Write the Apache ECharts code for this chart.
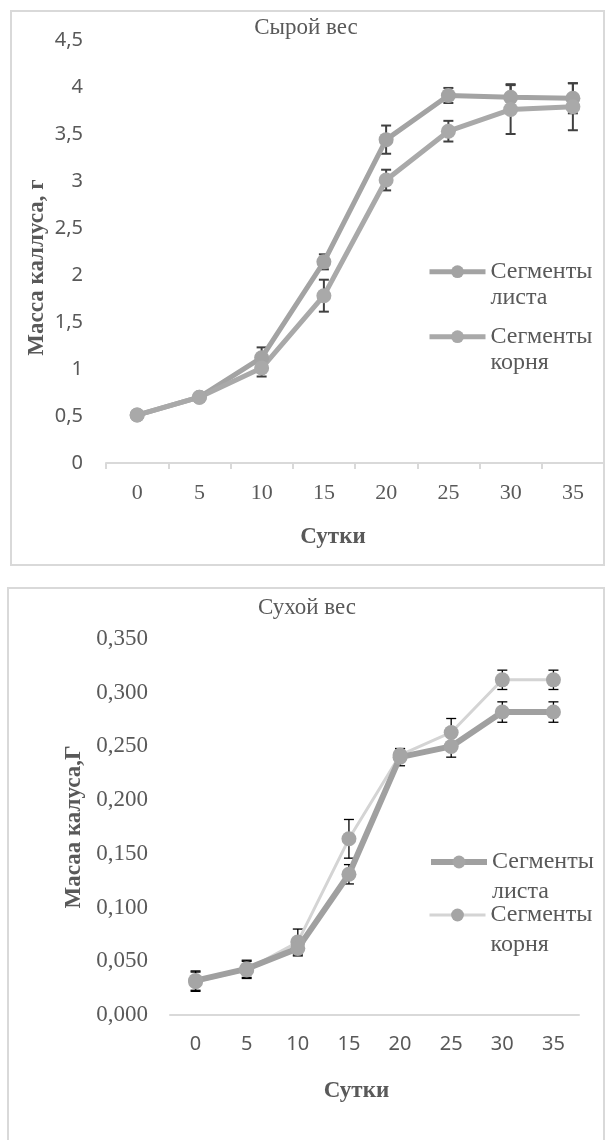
<!DOCTYPE html>
<html>
<head>
<meta charset="utf-8">
<script src="https://cdn.jsdelivr.net/npm/echarts@6/dist/echarts.min.js"></script>
<style>
html,body{margin:0;padding:0;background:#fff;}
#c1,#c2{width:606px;height:570px;}
</style>
</head>
<body>
<div id="c1"></div>
<div id="c2"></div>
<script>
// ---- data ----
const days = ['0', '5', '10', '15', '20', '25', '30', '35'];

const freshLeaf    = [0.51, 0.70, 1.12, 2.14, 3.44, 3.91, 3.89, 3.88];
const freshLeafErr = [0, 0, 0.11, 0.08, 0.15, 0.08, 0.14, 0.16];
const freshRoot    = [0.51, 0.70, 1.01, 1.78, 3.01, 3.53, 3.76, 3.79];
const freshRootErr = [0, 0, 0.09, 0.17, 0.11, 0.11, 0.26, 0.25];
const freshYTicks  = ['0', '0,5', '1', '1,5', '2', '2,5', '3', '3,5', '4', '4,5'];

const dryLeaf    = [0.032, 0.043, 0.062, 0.131, 0.240, 0.250, 0.282, 0.282];
const dryLeafErr = [0.009, 0.008, 0.007, 0.009, 0.008, 0.010, 0.0095, 0.0095];
const dryRoot    = [0.031, 0.042, 0.068, 0.164, 0.242, 0.263, 0.312, 0.312];
const dryRootErr = [0.009, 0.008, 0.012, 0.018, 0.006, 0.013, 0.009, 0.009];
const dryYTicks  = ['0,000', '0,050', '0,100', '0,150', '0,200', '0,250', '0,300', '0,350'];

const nameLeaf = 'Сегменты листа';
const nameRoot = 'Сегменты корня';

// ---- helpers ----
const SERIF = '"Liberation Serif", "Times New Roman", serif';
const SANS = '"Noto Sans", "Open Sans", sans-serif';
const TXT = '#595959';

function errData(vals, errs) {
  return vals.map((v, i) => [i, v, errs[i]]).filter(d => d[2] > 0);
}
function errSeries(vals, errs, color, width, cap) {
  return {
    type: 'custom',
    data: errData(vals, errs),
    z: 1,
    silent: true,
    renderItem: function (params, api) {
      const x = api.value(0), y = api.value(1), e = api.value(2);
      const hi = api.coord([x, y + e]);
      const lo = api.coord([x, y - e]);
      const st = { stroke: color, lineWidth: width };
      return {
        type: 'group',
        children: [
          { type: 'line', shape: { x1: hi[0], y1: hi[1], x2: lo[0], y2: lo[1] }, style: st },
          { type: 'line', shape: { x1: hi[0] - cap, y1: hi[1], x2: hi[0] + cap, y2: hi[1] }, style: st },
          { type: 'line', shape: { x1: lo[0] - cap, y1: lo[1], x2: lo[0] + cap, y2: lo[1] }, style: st }
        ]
      };
    }
  };
}
function lineSeries(name, vals, lineColor, lineWidth, markColor) {
  return {
    name: name,
    type: 'line',
    data: vals,
    z: 3,
    symbol: 'circle',
    symbolSize: 15,
    lineStyle: { color: lineColor, width: lineWidth },
    itemStyle: { color: markColor },
    emphasis: { disabled: true }
  };
}
function legendOne(name, left, top, L, lineColor, lineWidth, markColor) {
  return {
    data: [name],
    left: left,
    top: top,
    padding: 0,
    itemWidth: 56,
    itemHeight: 16,
    itemGap: 3,
    selectedMode: false,
    lineStyle: { color: lineColor, width: lineWidth },
    itemStyle: { color: markColor },
    formatter: n => '\n' + n.replace(' ', '\n'),
    textStyle: { fontFamily: SERIF, fontSize: 24, color: TXT, lineHeight: L }
  };
}

// ---- chart 1: fresh weight ----
const c1 = echarts.init(document.getElementById('c1'), null, { renderer: 'canvas' });
c1.setOption({
  animation: false,
  backgroundColor: '#fff',
  graphic: [{
    type: 'rect', shape: { x: 11, y: 11, width: 593, height: 554 },
    style: { fill: 'none', stroke: '#d9d9d9', lineWidth: 2 }, silent: true
  }],
  title: {
    text: 'Сырой вес', left: 306, top: 16, padding: 0, textAlign: 'center',
    textStyle: { fontFamily: SERIF, fontSize: 23, fontWeight: 'normal', color: TXT }
  },
  legend: [
    legendOne(nameLeaf, 427, 232.7, 26, '#a3a3a3', 5, '#a3a3a3'),
    legendOne(nameRoot, 427, 297.7, 26, '#a9a9a9', 5, '#a9a9a9')
  ],
  grid: { left: 106, top: 40, width: 498, height: 423 },
  xAxis: {
    type: 'category', data: days, boundaryGap: true,
    axisLine: { lineStyle: { color: '#d9d9d9', width: 2 } },
    axisTick: { show: true, length: 6, lineStyle: { color: '#d9d9d9', width: 2 } },
    axisLabel: { fontFamily: SERIF, fontSize: 22, color: TXT, margin: 19 },
    name: 'Сутки', nameLocation: 'middle', nameGap: 63,
    nameTextStyle: { fontFamily: SERIF, fontSize: 23, fontWeight: 'bold', color: TXT, padding: [0, 44, 0, 0] }
  },
  yAxis: {
    type: 'value', min: 0, max: 4.5, interval: 0.5,
    axisLine: { show: false }, axisTick: { show: false }, splitLine: { show: false },
    axisLabel: { fontFamily: SANS, fontSize: 20, color: TXT, margin: 23,
      formatter: v => freshYTicks[Math.round(v / 0.5)] },
    name: 'Масса каллуса, г', nameLocation: 'middle', nameGap: 57, nameRotate: 90,
    nameMoveOverlap: false,
    nameTextStyle: { fontFamily: SERIF, fontSize: 23, fontWeight: 'bold', color: TXT, padding: [0, 32, 0, 0] }
  },
  series: [
    errSeries(freshLeaf, freshLeafErr, '#404040', 2, 5),
    errSeries(freshRoot, freshRootErr, '#404040', 2, 5),
    lineSeries(nameLeaf, freshLeaf, '#a3a3a3', 5, '#a3a3a3'),
    lineSeries(nameRoot, freshRoot, '#a9a9a9', 5, '#a9a9a9')
  ]
});

// ---- chart 2: dry weight ----
const c2 = echarts.init(document.getElementById('c2'), null, { renderer: 'canvas' });
c2.setOption({
  animation: false,
  backgroundColor: '#fff',
  graphic: [{
    type: 'rect', shape: { x: 8, y: 18, width: 596, height: 600 },
    style: { fill: 'none', stroke: '#d9d9d9', lineWidth: 2 }, silent: true
  }],
  title: {
    text: 'Сухой вес', left: 307, top: 26, padding: 0, textAlign: 'center',
    textStyle: { fontFamily: SERIF, fontSize: 23, fontWeight: 'normal', color: TXT }
  },
  legend: [
    legendOne(nameLeaf, 428, 247, 30, '#a0a0a0', 6, '#a5a5a5'),
    legendOne(nameRoot, 428, 300, 30, '#d4d4d4', 3, '#a5a5a5')
  ],
  grid: { left: 170, top: 69, width: 409, height: 376 },
  xAxis: {
    type: 'category', data: days, boundaryGap: true,
    axisLine: { lineStyle: { color: '#d9d9d9', width: 2 } },
    axisTick: { show: false },
    axisLabel: { fontFamily: SANS, fontSize: 20, color: TXT, margin: 19 },
    name: 'Сутки', nameLocation: 'middle', nameGap: 65,
    nameTextStyle: { fontFamily: SERIF, fontSize: 23, fontWeight: 'bold', color: TXT, padding: [0, 36, 0, 0] }
  },
  yAxis: {
    type: 'value', min: 0, max: 0.35, interval: 0.05,
    axisLine: { show: false }, axisTick: { show: false }, splitLine: { show: false },
    axisLabel: { fontFamily: SERIF, fontSize: 23, color: TXT, margin: 22,
      formatter: v => dryYTicks[Math.round(v / 0.05)] },
    name: 'Масаа калуса,Г', nameLocation: 'middle', nameGap: 84, nameRotate: 90,
    nameMoveOverlap: false,
    nameTextStyle: { fontFamily: SERIF, fontSize: 23, fontWeight: 'bold', color: TXT }
  },
  series: [
    errSeries(dryLeaf, dryLeafErr, '#000000', 1.3, 5),
    errSeries(dryRoot, dryRootErr, '#000000', 1.3, 5),
    lineSeries(nameRoot, dryRoot, '#d4d4d4', 3, '#a5a5a5'),
    lineSeries(nameLeaf, dryLeaf, '#a0a0a0', 6, '#a5a5a5')
  ]
});
</script>
</body>
</html>
